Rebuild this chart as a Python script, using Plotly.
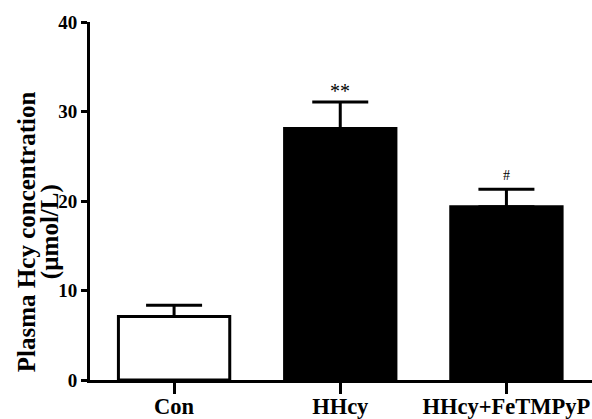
import plotly.graph_objects as go

categories = ["Con", "HHcy", "HHcy+FeTMPyP"]
means = [7.1, 28.1, 19.35]
errors = [1.25, 2.95, 1.95]
bar_colors = ["white", "black", "black"]
marks = ["", "**", "#"]
y_ticks = [0, 10, 20, 30, 40]
y_title_lines = ["Plasma Hcy concentration", "(µmol/L)"]

FONT = "Liberation Serif"

fig = go.Figure()
fig.add_trace(go.Bar(
    x=categories, y=means, width=0.67,
    marker=dict(color=bar_colors, line=dict(color="black", width=3)),
    error_y=dict(type="data", array=errors, arrayminus=[0]*len(errors), symmetric=False,
                 color="black", thickness=3, width=28),
))

for c, m, e, t in zip(categories, means, errors, marks):
    if t:
        fig.add_annotation(x=c, y=m + e, text=t, showarrow=False, yanchor="bottom",
                           yshift=-2 if t == "**" else 4,
                           font=dict(family=FONT, size=20 if t == "**" else 14, color="black"))

# two-line y title as rotated annotations (tight line spacing)
for line, xpx in zip(y_title_lines, [26, 50]):
    fig.add_annotation(xref="paper", yref="paper", x=(xpx - 90) / 502, y=0.413,
                       xanchor="center", yanchor="middle", textangle=-90,
                       text=line, showarrow=False,
                       font=dict(family=FONT, size=25, color="black", weight="bold"))

fig.update_layout(
    width=592, height=419,
    margin=dict(l=90, r=0, t=22, b=39, autoexpand=False),
    plot_bgcolor="white", paper_bgcolor="white",
    showlegend=False,
)
fig.update_xaxes(
    range=[-0.506, 2.515], showline=True, linecolor="black", linewidth=3,
    ticks="outside", ticklen=11, tickwidth=3, tickcolor="black",
    tickfont=dict(family=FONT, size=22.5, color="black", weight="bold"),
    ticklabelstandoff=-7,
    showgrid=False, zeroline=False, automargin=False,
)
fig.update_yaxes(
    range=[0, 40], tickvals=y_ticks, showline=True, linecolor="black", linewidth=3,
    ticks="outside", ticklen=6, tickwidth=3, tickcolor="black",
    tickfont=dict(family=FONT, size=19, color="black", weight="bold"),
    showgrid=False, zeroline=False, automargin=False,
)

fig.write_html("out.html", config={"displayModeBar": False},
               post_script="document.body.style.margin='0px';")
